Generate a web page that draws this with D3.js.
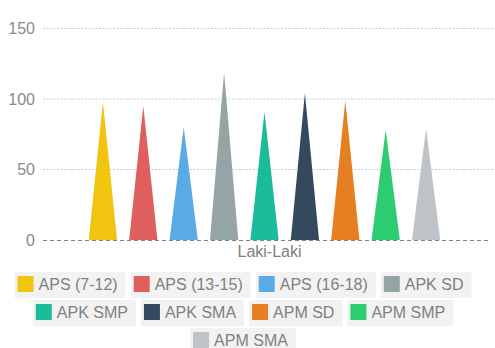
<!DOCTYPE html>
<html>
<head>
<meta charset="utf-8">
<script src="https://cdn.jsdelivr.net/npm/d3@7"></script>
<style>
  html, body { margin: 0; padding: 0; background: #fff; }
  svg { display: block; font-family: "Liberation Sans", Arial, sans-serif; }
</style>
</head>
<body>
<svg id="chart" width="495" height="348"></svg>
<script>
// Indicator values per series for the single category
const categories = ["Laki-Laki"];
const seriesNames = ["APS (7-12)", "APS (13-15)", "APS (16-18)", "APK SD", "APK SMP", "APK SMA", "APM SD", "APM SMP", "APM SMA"];
const seriesValues = [98, 95, 80, 119, 91, 104, 99, 78, 79];
const seriesColors = ["#f1c40f", "#df5f5f", "#5aaae6", "#95a5a6", "#1abc9c", "#34495e", "#e67e22", "#2ecc71", "#bdc3c7"];
const yTicks = [0, 50, 100, 150];

const svg = d3.select("#chart");
const W = 495;

const plot = { left: 43, right: 486, top: 28.5, bottom: 240 };

const y = d3.scaleLinear().domain([0, 150]).range([plot.bottom, plot.top]);
const x = d3.scaleBand().domain(categories).range([plot.left, plot.right]);
const groupWidth = 363.6;
const inner = d3.scaleBand().domain(seriesNames)
  .range([-groupWidth / 2, groupWidth / 2])
  .paddingInner(0.3).paddingOuter(0.15);

// Horizontal grid
const grid = svg.append("g");
grid.selectAll("line").data(yTicks.filter(d => d > 0)).join("line")
  .attr("x1", plot.left).attr("x2", W)
  .attr("y1", d => y(d)).attr("y2", d => y(d))
  .attr("stroke", "#cccccc").attr("stroke-width", 1)
  .attr("stroke-dasharray", "2,1.5");

// Y axis labels
const yAxis = d3.axisLeft(y).tickValues(yTicks).tickSize(0).tickPadding(0);
const yg = svg.append("g").attr("transform", `translate(${plot.left - 8},0)`).call(yAxis);
yg.select(".domain").remove();
yg.selectAll("text").attr("font-size", 16).attr("fill", "#8a8a8a")
  .attr("font-family", "Liberation Sans, Arial, sans-serif");

// Triangular bars
const cx = x(categories[0]) + x.bandwidth() / 2;
const bars = svg.append("g");
seriesNames.forEach((name, i) => {
  const x0 = cx + inner(name);
  const x1 = x0 + inner.bandwidth();
  const xm = (x0 + x1) / 2;
  const p = d3.path();
  p.moveTo(x0, y(0));
  p.lineTo(xm, y(seriesValues[i]));
  p.lineTo(x1, y(0));
  p.closePath();
  bars.append("path").attr("d", p.toString()).attr("fill", seriesColors[i]);
});

// Baseline
svg.append("line")
  .attr("x1", plot.left).attr("x2", 490)
  .attr("y1", y(0) + 0.5).attr("y2", y(0) + 0.5)
  .attr("stroke", "#808080").attr("stroke-width", 1)
  .attr("stroke-dasharray", "4,3");

// Category axis label
const xAxis = d3.axisBottom(x).tickSize(0).tickPadding(0);
const xg = svg.append("g").attr("transform", `translate(5,${y(0) + 6})`).call(xAxis);
xg.select(".domain").remove();
xg.selectAll("text").attr("font-size", 16).attr("fill", "#808080").attr("dy", "0.71em")
  .attr("font-family", "Liberation Sans, Arial, sans-serif");

// Legend laid out in centred, wrapping rows
const legend = svg.append("g");
const itemH = 26, rowStep = 28, gap = 5, maxRow = 470, legendCenter = 243, legendTop = 272;
const items = seriesNames.map((name, i) => {
  const g = legend.append("g");
  const rect = g.append("rect").attr("height", itemH).attr("fill", "#f2f2f2");
  g.append("rect").attr("x", 3).attr("y", 4).attr("width", 16).attr("height", 16).attr("fill", seriesColors[i]);
  const t = g.append("text").attr("x", 24).attr("y", 18.3).attr("font-size", 16).attr("fill", "#808080").text(name);
  const w = 24 + t.node().getComputedTextLength() + 8;
  rect.attr("width", w);
  return { g, w };
});
const rows = [];
let cur = [], curW = 0;
items.forEach(it => {
  const add = cur.length ? gap + it.w : it.w;
  if (cur.length && curW + add > maxRow) { rows.push({ items: cur, w: curW }); cur = [it]; curW = it.w; }
  else { cur.push(it); curW += add; }
});
if (cur.length) rows.push({ items: cur, w: curW });
rows.forEach((row, r) => {
  let xx = legendCenter - row.w / 2;
  row.items.forEach(it => {
    it.g.attr("transform", `translate(${xx},${legendTop + r * rowStep})`);
    xx += it.w + gap;
  });
});
</script>
</body>
</html>
